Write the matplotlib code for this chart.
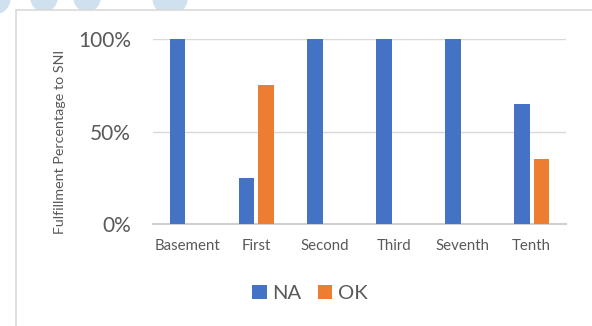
import numpy as np
import matplotlib
matplotlib.use('Agg')
import matplotlib.pyplot as plt
from matplotlib.patches import Rectangle, Ellipse
from matplotlib.ticker import PercentFormatter

floors = ['Basement', 'First', 'Second', 'Third', 'Seventh', 'Tenth']
na_share = [1.00, 0.25, 1.00, 1.00, 1.00, 0.65]
ok_share = [0.00, 0.75, 0.00, 0.00, 0.00, 0.35]
y_ticks = [0.0, 0.5, 1.0]

BLUE = '#4472C4'
ORANGE = '#ED7D31'
TEXT = '#595959'

plt.rcParams['font.family'] = ['Lato', 'DejaVu Sans']

W, H = 592, 326
fig = plt.figure(figsize=(W / 100, H / 100), dpi=100)
fig.patch.set_facecolor('white')

# decorative blobs peeking over the chart frame
for cx, r in [(-6, 16), (44, 13), (87, 13), (170, 17)]:
    fig.add_artist(Ellipse((cx / W, 1 + 2 / H), 2 * r / W, 2 * r / H,
                           transform=fig.transFigure, color='#cfe0ef',
                           zorder=0))

# chart frame
fig.add_artist(Rectangle((15.5 / W, -0.1), 1.0, 1.1 - 10 / H,
                         transform=fig.transFigure, facecolor='white',
                         edgecolor='#d9d9d9', linewidth=1.2, zorder=1))

ax = fig.add_axes([153 / W, 1 - 224 / H, (566 - 153) / W, (224 - 39) / H])
ax.set_zorder(2)
ax.patch.set_alpha(0)

x = np.arange(len(floors))
width = 0.228
off = 0.142
b1 = ax.bar(x - off, na_share, width, color=BLUE, label='NA', zorder=3)
b2 = ax.bar(x + off, ok_share, width, color=ORANGE, label='OK', zorder=3)

ax.set_xlim(-0.5, len(floors) - 0.5)
ax.set_ylim(0, 1.0)
ax.set_yticks(y_ticks)
ax.yaxis.set_major_formatter(PercentFormatter(1.0, decimals=0))
ax.set_xticks(x)
ax.set_xticklabels(floors)

ax.grid(axis='y', color='#d9d9d9', linewidth=1.0, zorder=0)
ax.set_axisbelow(True)
for s in ['top', 'right', 'left']:
    ax.spines[s].set_visible(False)
ax.spines['bottom'].set_color('#d0d0d0')
ax.spines['bottom'].set_linewidth(1.5)
ax.tick_params(axis='both', length=0, colors=TEXT)
ax.tick_params(axis='y', labelsize=15, pad=16)
ax.tick_params(axis='x', labelsize=10.8, pad=11)

fig.text(60 / W, 1 - 142 / H, 'Fulfillment Percentage to SNI', rotation=90,
         ha='center', va='center', fontsize=10.3, color=TEXT)

fig.legend(handles=[b1, b2], loc='center', bbox_to_anchor=(310 / W, 1 - 293.5 / H),
           ncol=2, frameon=False, fontsize=14.5, handlelength=0.7,
           handleheight=0.7, handletextpad=0.3, columnspacing=0.8,
           labelcolor=TEXT, borderpad=0)

fig.savefig('out.png', dpi=100)
